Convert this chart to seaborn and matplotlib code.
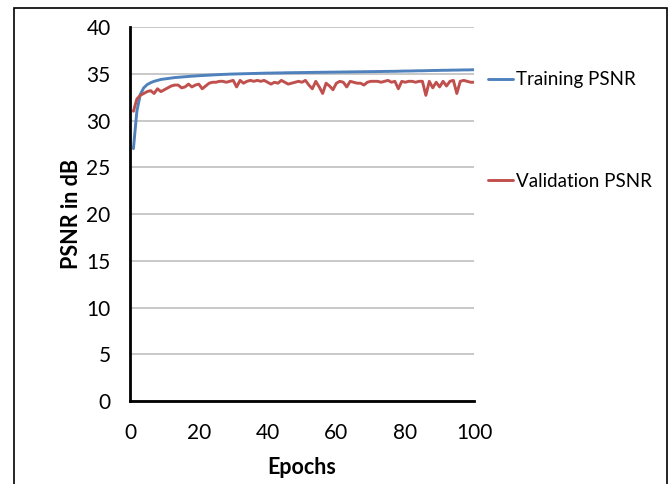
import pandas as pd
import matplotlib
matplotlib.use("Agg")
import matplotlib.pyplot as plt
import seaborn as sns
from matplotlib.patches import Rectangle

# PSNR values
epochs = list(range(1, 101))
train_psnr = [
    27.0, 31.0, 32.8, 33.5, 33.85, 34.05, 34.2, 34.3, 34.4, 34.45,
    34.5, 34.55, 34.6, 34.63, 34.66, 34.69, 34.72, 34.75, 34.77, 34.8,
    34.82, 34.84, 34.86, 34.88, 34.9, 34.92, 34.94, 34.95, 34.97, 34.98,
    34.99, 35.0, 35.01, 35.02, 35.03, 35.04, 35.05, 35.06, 35.07, 35.08,
    35.08, 35.09, 35.1, 35.1, 35.11, 35.12, 35.12, 35.13, 35.13, 35.14,
    35.14, 35.15, 35.15, 35.16, 35.16, 35.17, 35.17, 35.18, 35.18, 35.19,
    35.19, 35.2, 35.2, 35.21, 35.21, 35.22, 35.22, 35.23, 35.23, 35.24,
    35.24, 35.25, 35.25, 35.26, 35.26, 35.27, 35.27, 35.28, 35.29, 35.3,
    35.3, 35.31, 35.32, 35.33, 35.33, 35.34, 35.35, 35.36, 35.36, 35.37,
    35.38, 35.38, 35.39, 35.4, 35.4, 35.41, 35.42, 35.42, 35.43, 35.44,
]
val_psnr = [
    31.0, 32.3, 32.7, 32.9, 33.1, 33.2, 32.9, 33.4, 33.1, 33.3,
    33.5, 33.7, 33.8, 33.8, 33.5, 33.6, 33.9, 33.6, 33.8, 33.9,
    33.4, 33.7, 34.0, 34.1, 34.1, 34.2, 34.2, 34.1, 34.2, 34.3,
    33.6, 34.3, 34.0, 34.2, 34.3, 34.2, 34.3, 34.2, 34.3, 34.1,
    33.9, 34.1, 34.0, 34.3, 34.1, 33.9, 34.0, 34.1, 34.2, 34.1,
    34.3, 33.8, 33.4, 34.2, 33.6, 32.9, 34.0, 33.7, 33.3, 34.0,
    34.2, 34.1, 33.6, 34.2, 34.1, 34.0, 34.0, 33.8, 34.1, 34.2,
    34.2, 34.2, 34.1, 34.2, 34.3, 34.1, 34.2, 33.4, 34.2, 34.1,
    34.2, 34.2, 34.1, 34.2, 34.2, 32.7, 34.2, 33.5, 34.1, 33.6,
    34.2, 33.7, 34.2, 34.3, 32.9, 34.2, 34.3, 34.2, 34.1, 34.1,
]
series_names = ["Training PSNR", "Validation PSNR"]
x_ticks = [0, 20, 40, 60, 80, 100]
y_ticks = [0, 5, 10, 15, 20, 25, 30, 35, 40]

df = pd.DataFrame({"Epoch": epochs, series_names[0]: train_psnr, series_names[1]: val_psnr})
df = df.melt(id_vars="Epoch", var_name="Series", value_name="PSNR")

sns.set_style("white")
plt.rcParams["font.family"] = ["Lato", "DejaVu Sans"]
plt.rcParams["text.color"] = "black"
plt.rcParams["axes.labelcolor"] = "black"
plt.rcParams["xtick.color"] = "black"
plt.rcParams["ytick.color"] = "black"

fig = plt.figure(figsize=(6.7, 4.84), dpi=100)
ax = fig.add_axes([0.194, 0.1715, 0.5135, 0.7725])

sns.lineplot(data=df, x="Epoch", y="PSNR", hue="Series", hue_order=series_names,
             palette=["#4F81BD", "#C0504D"], linewidth=2.1, ax=ax)

ax.set_xlim(0, 100)
ax.set_ylim(0, 40)
ax.set_xticks(x_ticks)
ax.set_yticks(y_ticks)
ax.yaxis.grid(True, color="#BFBFBF", linewidth=1.2)
ax.set_axisbelow(True)
for side in ["top", "right"]:
    ax.spines[side].set_visible(False)
for side in ["left", "bottom"]:
    ax.spines[side].set_color("black")
    ax.spines[side].set_linewidth(2)
ax.tick_params(axis="both", direction="out", length=5, width=1.5,
               labelsize=15, pad=9)
ax.tick_params(axis="x", pad=11)

ax.set_xlabel("Epochs", fontsize=15.5, fontweight="bold", labelpad=10)
ax.set_ylabel("PSNR in dB", fontsize=15.5, fontweight="bold", labelpad=3)

handles, labels = ax.get_legend_handles_labels()
ax.legend(handles, labels, loc="upper left", bbox_to_anchor=(0.715, 0.872),
          bbox_transform=fig.transFigure, frameon=False, fontsize=13.5,
          handlelength=1.3, handletextpad=0.15, labelspacing=4.5, borderpad=0)

fig.patches.append(Rectangle((0.021, -0.01), 0.974, 0.994, transform=fig.transFigure,
                             fill=False, edgecolor="black", linewidth=1.2))

fig.savefig("out.png", dpi=100)
